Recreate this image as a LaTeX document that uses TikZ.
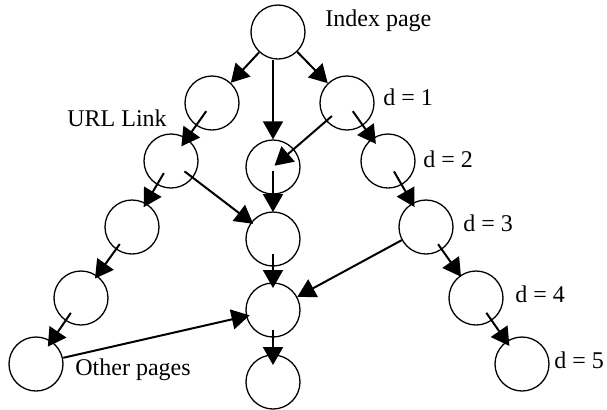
\documentclass[tikz,border=0pt]{standalone}
\usepackage{fontspec}
\setmainfont{Liberation Serif}
\usetikzlibrary{arrows.meta}
\def\link(#1)(#2)(#3:#4){\draw[arr, shorten <=#3pt, shorten >=#4pt] (#1.center) -- (#2.center);}

\begin{document}
\begin{tikzpicture}[x=0.5pt, y=-0.5pt,
	page/.style={circle, draw, line width=0.65pt, minimum size=27pt, inner sep=0pt},
	arr/.style={line width=1pt, -{Triangle[length=9pt, width=10pt]}},
	lbl/.style={anchor=base west, inner sep=0pt, font=\fontsize{12}{14}\selectfont}]
		%%%%% START %%%%%
		\useasboundingbox (0, 0) rectangle (607, 409);
		
		\node[page] (idx) at (278, 32) {};
		\node[page] (l2a) at (212, 103) {};
		\node[page] (l2b) at (347, 103) {};
		\node[page] (url) at (171, 161) {};
		\node[page] (m1) at (273, 167) {};
		\node[page] (r2) at (388, 161) {};
		\node[page] (l4) at (132, 227) {};
		\node[page] (m2) at (273, 239) {};
		\node[page] (r3) at (426, 227) {};
		\node[page] (l5) at (81, 298) {};
		\node[page] (m3) at (273, 310) {};
		\node[page] (r4) at (476, 298) {};
		\node[page] (oth) at (36, 364) {};
		\node[page] (bot) at (273, 382) {};
		\node[page] (r5) at (522, 364) {};
		
		\node[lbl] (tidx) at (325, 26) {Index page};
		\node[lbl] (turl) at (67, 126) {URL Link};
		\node[lbl] (toth) at (75, 375) {Other pages};
		\node[lbl] (td1) at (383, 105) {d = 1};
		\node[lbl] (td2) at (423, 167) {d = 2};
		\node[lbl] (td3) at (463, 231) {d = 3};
		\node[lbl] (td4) at (515, 302) {d = 4};
		\node[lbl] (td5) at (554, 368) {d = 5};
		
		\draw[arr] (idx) -- (l2a);
		\draw[arr] (idx.south -| m1) -- (m1);
		\draw[arr] (idx) -- (l2b);
		\link(l2a)(url)(5:9)
		\link(l2b)(m1)(10:1)
		\link(l2b)(r2)(5:10.5)
		\link(m1)(m2)(2:13.5)
		\link(url)(m2)(8.5:12.5)
		\link(url)(l4)(7:11.5)
		\link(l4)(l5)(10.5:12)
		\link(l5)(oth)(9:10.5)
		\link(oth)(m3)(14:12)
		\link(m2)(m3)(7.5:11)
		\link(m3)(bot)(10:8.5)
		\draw[arr] (r3) -- (m3);
		\link(r2)(r3)(6:11.5)
		\link(r3)(r4)(10.5:13)
		\link(r4)(r5)(9:11)
		%%%%% END %%%%%
\end{tikzpicture}
\end{document}
